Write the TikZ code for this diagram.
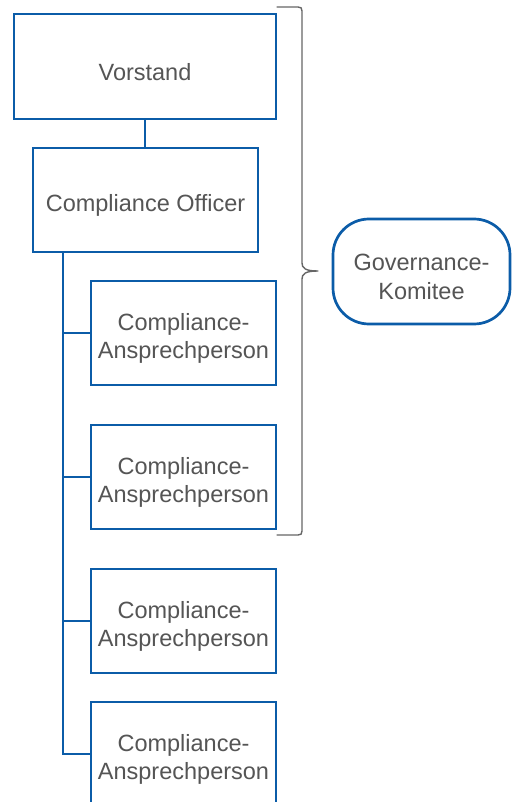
\documentclass[tikz,border=0pt]{standalone}
\usepackage{fontspec}
\setmainfont{Liberation Sans}
\definecolor{boxblue}{HTML}{0B5CA8}
\definecolor{txtgray}{HTML}{555555}
\definecolor{bracegray}{HTML}{666666}
\begin{document}
\begin{tikzpicture}[x=1pt,y=-1pt,
  box/.style={draw=boxblue, line width=2.7pt, fill=white, inner sep=0pt},
  txt/.style={text=txtgray, align=center, font=\fontsize{23.5}{28.5}\selectfont, inner sep=0pt, yshift=-5.5pt},
  subbox/.style={box, minimum width=185pt, minimum height=104pt},
  link/.style={draw=boxblue, line width=2.7pt},
  bracestyle/.style={draw=bracegray, line width=1.4pt, line cap=round, line join=round}]
\useasboundingbox (0,0) rectangle (511,802);
\node[box, minimum width=262pt, minimum height=105pt, label={[txt]center:Vorstand}] (V) at (145,66.5) {};
\node[box, minimum width=225pt, minimum height=104pt, label={[txt]center:Compliance Officer}] (CO) at (145.5,200) {};
\node[subbox, label={[txt]center:Compliance-\\Ansprechperson}] (A1) at (183.5,333) {};
\node[subbox, label={[txt]center:Compliance-\\Ansprechperson}] (A2) at (183.5,477) {};
\node[subbox, label={[txt]center:Compliance-\\Ansprechperson}] (A3) at (183.5,621) {};
\node[subbox, label={[txt]center:Compliance-\\Ansprechperson}] (A4) at (183.5,754) {};
\node[box, minimum width=177pt, minimum height=105pt, rounded corners=36pt, label={[txt]center:Governance-\\Komitee}] (G) at (421.5,271.5) {};
\draw[link] (V.south) -- (V.south |- CO.north);
\coordinate (trunk) at (63,252);
\draw[link] (trunk) |- (A4.west);
\draw[link] (trunk |- A1.west) -- (A1.west);
\draw[link] (trunk |- A2.west) -- (A2.west);
\draw[link] (trunk |- A3.west) -- (A3.west);
% brace
\coordinate (bt) at (277,7);
\coordinate (bb) at (277,535);
\coordinate (tip) at (318,271);
\draw[bracestyle] (bt) -- (298,7) .. controls (301,7) and (302,8) .. (302,11)
  -- (302,263) .. controls (302,268) and (305,271) .. (tip)
  .. controls (305,271) and (302,274) .. (302,279)
  -- (302,531) .. controls (302,534) and (301,535) .. (298,535) -- (bb);
\end{tikzpicture}
\end{document}
